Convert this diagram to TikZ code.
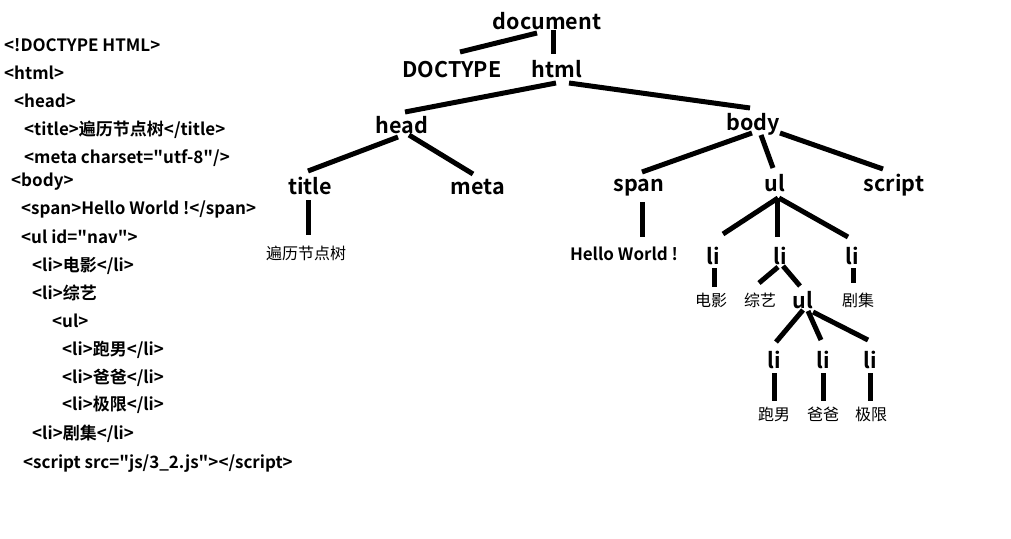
\documentclass[tikz,border=0pt]{standalone}
\usepackage{fontspec}
\setmainfont{Noto Sans CJK SC}[BoldFont={Noto Sans CJK SC Bold}]
\usepackage{tikz}
\usetikzlibrary{calc,positioning}
\newcommand{\qt}{\textquotedbl}

\begin{document}
\begin{tikzpicture}[x=1pt, y=-1pt, every node/.style={inner sep=0pt},
  code/.style={anchor=west, font=\bfseries\fontsize{17}{17}\selectfont, text height=14pt, text depth=2pt},
  tag/.style={font=\bfseries\fontsize{21.5}{21.5}\selectfont, text height=21pt, text depth=4pt},
  leaf/.style={font=\fontsize{16}{16}\selectfont, text height=14pt, text depth=2pt},
  edge/.style={line width=5pt}]
                            \useasboundingbox (0,0) rectangle (1011,538);
                            % source listing
                            \node[code] (c1) at (4,45) {<!DOCTYPE HTML>};
                            \node[code] (c2) at (4,73) {<html>};
                            \node[code] (c3) at (14,101) {<head>};
                            \node[code] (c4) at (24,129) {<title>遍历节点树</title>};
                            \node[code] (c5) at (24,157) {<meta charset=\qt utf-8\qt/>};
                            \node[code] (c6) at (11,180) {<body>};
                            \node[code] (c7) at (21,208) {<span>Hello World !</span>};
                            \node[code] (c8) at (21,237) {<ul id=\qt nav\qt>};
                            \node[code] (c9) at (32,265) {<li>电影</li>};
                            \node[code] (c10) at (32,293) {<li>综艺};
                            \node[code] (c11) at (52,321) {<ul>};
                            \node[code] (c12) at (62,349) {<li>跑男</li>};
                            \node[code] (c13) at (62,377) {<li>爸爸</li>};
                            \node[code] (c14) at (62,404) {<li>极限</li>};
                            \node[code] (c15) at (32,433) {<li>剧集</li>};
                            \node[code] (c16) at (23,462) {<script src=\qt js/3\_2.js\qt></script>};

                            % tree
                            \node[tag] (doc) at (547,21) {document};
                            \node[tag] (doctype) at (452,69) {DOCTYPE};
                            \node[tag] (html) at (557,69) {html};
                            \node[tag] (head) at (402,125) {head};
                            \node[tag] (body) at (753,122) {body};
                            \node[tag] (title) at (310,186) {title};
                            \node[tag] (meta) at (478,186) {meta};
                            \node[tag] (span) at (639,183) {span};
                            \node[tag] (ul) at (775,183) {ul};
                            \node[tag] (script) at (894,183) {script};
                            \node[leaf] (titletext) at (306,253) {遍历节点树};
                            \node[code, anchor=center] (hello) at (624,254) {Hello World !};
                            \node[tag] (li1) at (713,256) {li};
                            \node[tag] (li2) at (780,256) {li};
                            \node[tag] (li3) at (852,256) {li};
                            \node[leaf] (movie) at (711,300) {电影};
                            \node[leaf] (variety) at (760,300) {综艺};
                            \node[tag] (subul) at (803,300) {ul};
                            \node[leaf] (drama) at (858,300) {剧集};
                            \node[tag] (li4) at (774,360) {li};
                            \node[tag] (li5) at (823,360) {li};
                            \node[tag] (li6) at (870,360) {li};
                            \node[leaf] (run) at (774,414) {跑男};
                            \node[leaf] (dad) at (823,414) {爸爸};
                            \node[leaf] (limit) at (871,414) {极限};

                            \draw[edge] ($(doc)+(-10,12)$) -- ($(doctype)+(8,-17)$);
                            \draw[edge] ($(doc)+(6,9)$) -- ($(html)+(-4,-15)$);
                            \draw[edge] ($(html)+(-1,14)$) -- ($(head)+(3,-13)$);
                            \draw[edge] ($(html)+(12,14)$) -- ($(body)+(-3,-14)$);
                            \draw[edge] ($(head)+(-4,12)$) -- ($(title)+(-2,-15)$);
                            \draw[edge] ($(head)+(7,10)$) -- ($(meta)+(-5,-12)$);
                            \draw[edge] ($(body)+(-1,11)$) -- ($(span)+(3,-11)$);
                            \draw[edge] ($(body)+(8,13)$) -- ($(ul)+(-2,-15)$);
                            \draw[edge] ($(body)+(27,11)$) -- ($(script)+(-11,-14)$);
                            \draw[edge] ($(title)+(-2,14)$) -- ($(titletext)+(2,-18)$);
                            \draw[edge] ($(span)+(3,19)$) -- ($(hello)+(18,-17)$);
                            \draw[edge] ($(ul)+(3,15)$) -- ($(li1)+(10,-22)$);
                            \draw[edge] ($(ul)+(2,15)$) -- ($(li2)+(-3,-19)$);
                            \draw[edge] ($(ul)+(4,15)$) -- ($(li3)+(-4,-19)$);
                            \draw[edge] ($(li1)+(1,12)$) -- ($(movie)+(3,-13)$);
                            \draw[edge] ($(li2)+(-2,11)$) -- ($(variety)+(-1,-17)$);
                            \draw[edge] ($(li2)+(3,10)$) -- ($(subul)+(-3,-14)$);
                            \draw[edge] ($(li3)+(1,12)$) -- ($(drama)+(-5,-17)$);
                            \draw[edge] ($(subul)+(0,10)$) -- ($(li4)+(2,-18)$);
                            \draw[edge] ($(subul)+(5,11)$) -- ($(li5)+(-2,-20)$);
                            \draw[edge] ($(subul)+(10,12)$) -- ($(li6)+(-2,-20)$);
                            \draw[edge] ($(li4)+(0,13)$) -- ($(run)+(0,-13)$);
                            \draw[edge] ($(li5)+(0,13)$) -- ($(dad)+(0,-13)$);
                            \draw[edge] ($(li6)+(0,13)$) -- ($(limit)+(-1,-13)$);
                     \end{tikzpicture}
\end{document}
